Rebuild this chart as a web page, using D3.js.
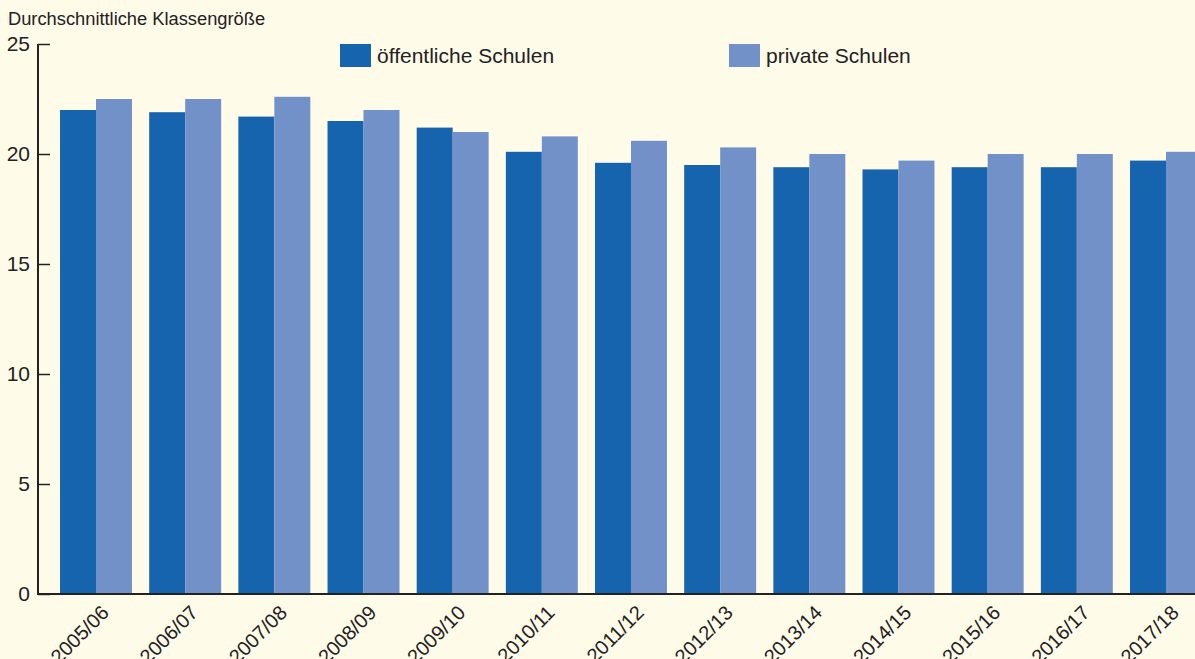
<!DOCTYPE html>
<html>
<head>
<meta charset="utf-8">
<script src="https://cdn.jsdelivr.net/npm/d3@7"></script>
<style>
  body { margin: 0; background: #fffbe9; }
  svg { display: block; font-family: "Liberation Sans", Arial, sans-serif; }
</style>
</head>
<body>
<div id="chart"></div>
<script>
// school years
var years = ["2005/06", "2006/07", "2007/08", "2008/09", "2009/10", "2010/11", "2011/12",
             "2012/13", "2013/14", "2014/15", "2015/16", "2016/17", "2017/18"];
// average class size
var publicSchools = [22.0, 21.9, 21.7, 21.5, 21.2, 20.1, 19.6, 19.5, 19.4, 19.3, 19.4, 19.4, 19.7];
var privateSchools = [22.5, 22.5, 22.6, 22.0, 21.0, 20.8, 20.6, 20.3, 20.0, 19.7, 20.0, 20.0, 20.1];
var seriesNames = ["öffentliche Schulen", "private Schulen"];
var yTicks = [0, 5, 10, 15, 20, 25];

var width = 1195;
var height = 659;
var colors = ["#1664ad", "#7391c9"];

var svg = d3.select("#chart")
    .append("svg")
    .attr("width", width)
    .attr("height", height);

svg.append("rect").attr("width", width).attr("height", height).attr("fill", "#fffbe9");

var x0 = 38, yBase = 594;

var x = d3.scaleBand()
    .domain(years)
    .range([x0, 1224])
    .paddingInner(0.193)
    .paddingOuter(0.247);

var xs = d3.scaleBand()
    .domain([0, 1])
    .range([0, x.bandwidth()]);

var y = d3.scaleLinear()
    .domain([0, 25])
    .range([yBase, 44]);

// bars
var rows = years.map(function (d, i) {
    return { year: d, vals: [publicSchools[i], privateSchools[i]] };
});

var groups = svg.selectAll("g.grp")
    .data(rows)
    .enter()
    .append("g")
    .attr("class", "grp")
    .attr("transform", function (d) { return "translate(" + x(d.year) + ",0)"; });

groups.selectAll("rect")
    .data(function (d) { return d.vals; })
    .enter()
    .append("rect")
    .attr("x", function (d, i) { return xs(i); })
    .attr("width", xs.bandwidth())
    .attr("y", function (d) { return y(d); })
    .attr("height", function (d) { return yBase - y(d); })
    .attr("fill", function (d, i) { return colors[i]; });

// y axis
var yAxis = svg.append("g")
    .attr("transform", "translate(" + x0 + ",0)")
    .call(d3.axisRight(y).tickValues(yTicks).tickSize(12).tickFormat(""));
yAxis.select(".domain").attr("stroke", "#222").attr("stroke-width", 2).attr("d", "M0," + y(25) + "V" + yBase);
yAxis.selectAll(".tick line").attr("stroke", "#222").attr("stroke-width", 1.5);

svg.selectAll("text.ylab")
    .data(yTicks)
    .enter()
    .append("text")
    .attr("class", "ylab")
    .attr("x", 30)
    .attr("y", function (d) { return y(d); })
    .attr("dy", "0.35em")
    .attr("text-anchor", "end")
    .attr("font-size", 21)
    .attr("fill", "#222")
    .text(function (d) { return d; });

// baseline
svg.append("line")
    .attr("x1", x0 - 1).attr("x2", width)
    .attr("y1", yBase).attr("y2", yBase)
    .attr("stroke", "#222").attr("stroke-width", 2);

// x labels
svg.selectAll("text.xlab")
    .data(years)
    .enter()
    .append("text")
    .attr("class", "xlab")
    .attr("transform", function (d) {
        return "translate(" + (x(d) + x.bandwidth() / 2 + 14) + "," + (yBase + 20) + ") rotate(-45)";
    })
    .attr("text-anchor", "end")
    .attr("font-size", 20)
    .attr("fill", "#222")
    .text(function (d) { return d; });

// title
svg.append("text")
    .attr("x", 8)
    .attr("y", 25)
    .attr("font-size", 18.3)
    .attr("fill", "#222")
    .text("Durchschnittliche Klassengröße");

// legend
var legendX = [340, 729];
var legend = svg.selectAll("g.legend")
    .data(seriesNames)
    .enter()
    .append("g")
    .attr("class", "legend")
    .attr("transform", function (d, i) { return "translate(" + legendX[i] + ",44)"; });

legend.append("rect")
    .attr("width", 31)
    .attr("height", 23)
    .attr("fill", function (d, i) { return colors[i]; });

legend.append("text")
    .attr("x", 37)
    .attr("y", 11.5)
    .attr("dy", "0.35em")
    .attr("font-size", 21)
    .attr("fill", "#222")
    .text(function (d) { return d; });
</script>
</body>
</html>
